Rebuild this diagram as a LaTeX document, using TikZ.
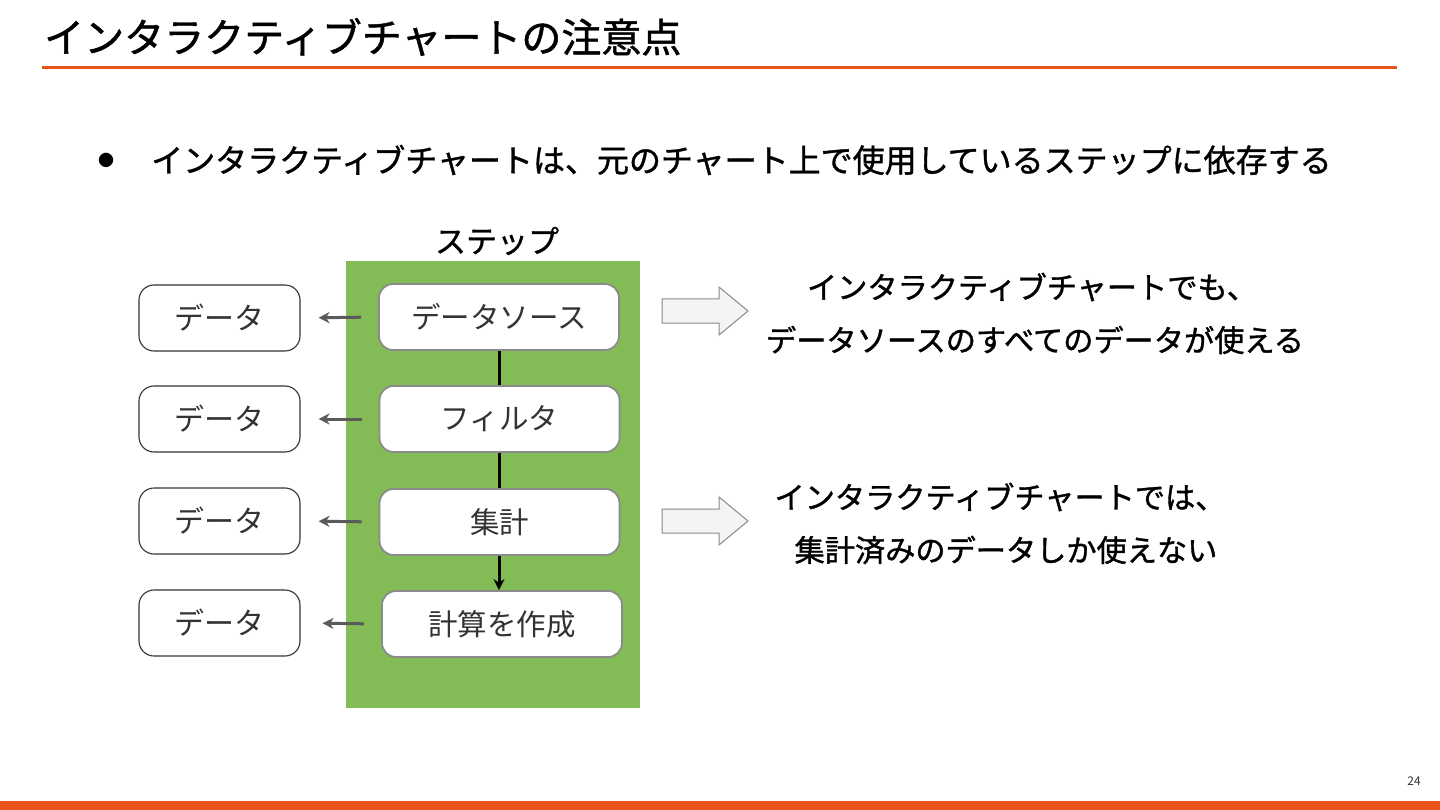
\documentclass[tikz,border=0pt]{standalone}
\usepackage{fontspec}
\setmainfont{Noto Sans CJK JP}
\newfontfamily\medfont{Noto Sans CJK JP}[FakeBold=1.2]
\usetikzlibrary{arrows.meta}
\definecolor{orangeline}{HTML}{E8541C}
\definecolor{stepgreen}{HTML}{83BC56}
\definecolor{boxborder}{HTML}{8A8A8A}
\definecolor{textdark}{HTML}{333333}
\definecolor{arrowgray}{HTML}{5A5A5A}
\definecolor{blockfill}{HTML}{F4F4F4}
\tikzset{
  stepbox/.style={draw=boxborder, line width=1.8pt, fill=white, rounded corners=14pt,
    minimum width=240pt, minimum height=66pt, inner sep=0pt, text=textdark,
    font=\fontsize{29.5}{32}\selectfont},
  databox/.style={draw=textdark, line width=1.1pt, fill=white, rounded corners=15pt,
    minimum width=161pt, minimum height=66pt, inner sep=0pt, text=textdark,
    font=\fontsize{30}{32}\selectfont},
  smallarrow/.style={draw=arrowgray, line width=3pt, -{Stealth[length=11pt,width=11pt]}},
  stepline/.style={draw=black, line width=3pt},
  blockarrow/.style={draw=boxborder, line width=1pt, fill=blockfill},
  righttext/.style={font=\medfont\fontsize{30.2}{34}\selectfont, inner sep=0pt, anchor=center},
}
\begin{document}
\begin{tikzpicture}[x=1pt,y=-1pt]
\useasboundingbox[fill=white] (0,0) rectangle (1440,810);
% title
\node[anchor=west, inner sep=0pt, font=\medfont\fontsize{40}{44}\selectfont] (title) at (44,37) {インタラクティブチャートの注意点};
\draw[orangeline, line width=3pt] (42,67.5) -- (1397,67.5);
\fill[orangeline] (0,801) rectangle (1440,810);
\node[inner sep=0pt, font=\fontsize{12}{14}\selectfont, text=textdark] (pnum) at (1414,781) {24};
% bullet
\node[inner sep=0pt, font=\fontsize{16}{18}\selectfont] (bul) at (106,160) {●};
\node[anchor=west, inner sep=0pt, font=\medfont\fontsize{32}{36}\selectfont] (bullettext) at (151,160) {インタラクティブチャートは、元のチャート上で使用しているステップに依存する};
% steps label
\node[inner sep=0pt, font=\medfont\fontsize{31}{34}\selectfont] (steplabel) at (497,241) {ステップ};
% green panel
\fill[stepgreen] (346,261) rectangle (640,708);
% step boxes
\node[stepbox] (ds) at (499,317) {データソース};
\node[stepbox] (fl) at (499.5,419) {フィルタ};
\node[stepbox] (ag) at (499.5,522) {集計};
\node[stepbox] (cc) at (502,624) {計算を作成};
% data boxes
\node[databox] (d1) at (219.5,318) {データ};
\node[databox] (d2) at (219.5,419) {データ};
\node[databox] (d3) at (219.5,521) {データ};
\node[databox] (d4) at (219.5,623) {データ};
% connectors between steps
\draw[stepline] (ds.south -| 499,0) -- (fl.north -| 499,0);
\draw[stepline] (fl.south -| 499,0) -- (ag.north -| 499,0);
\draw[stepline, -{Stealth[length=11pt,width=11pt]}] (ag.south -| 499,0) -- (cc.north -| 499,0);
% small arrows to data
\draw[smallarrow, shorten <=17pt, shorten >=18pt] (ds.west) -- (d1.east);
\draw[smallarrow, shorten <=17pt, shorten >=18pt] (fl.west) -- (d2.east);
\draw[smallarrow, shorten <=17pt, shorten >=18pt] (ag.west) -- (d3.east);
\draw[smallarrow, shorten <=17pt, shorten >=22pt] (cc.west) -- (d4.east);
% block arrows
\draw[blockarrow] (662,299) -- (719,299) -- (719,287) -- (748,311) -- (719,335) -- (719,323) -- (662,323) -- cycle;
\draw[blockarrow] (662,509) -- (719,509) -- (719,497) -- (748,521) -- (719,545) -- (719,533) -- (662,533) -- cycle;
% right texts
\node[righttext] (t1) at (1032,287) {インタラクティブチャートでも、};
\node[righttext] (t2) at (1035,340) {データソースのすべてのデータが使える};
\node[righttext] (t3) at (1000,497) {インタラクティブチャートでは、};
\node[righttext] (t4) at (1006,550) {集計済みのデータしか使えない};
\end{tikzpicture}
\end{document}
